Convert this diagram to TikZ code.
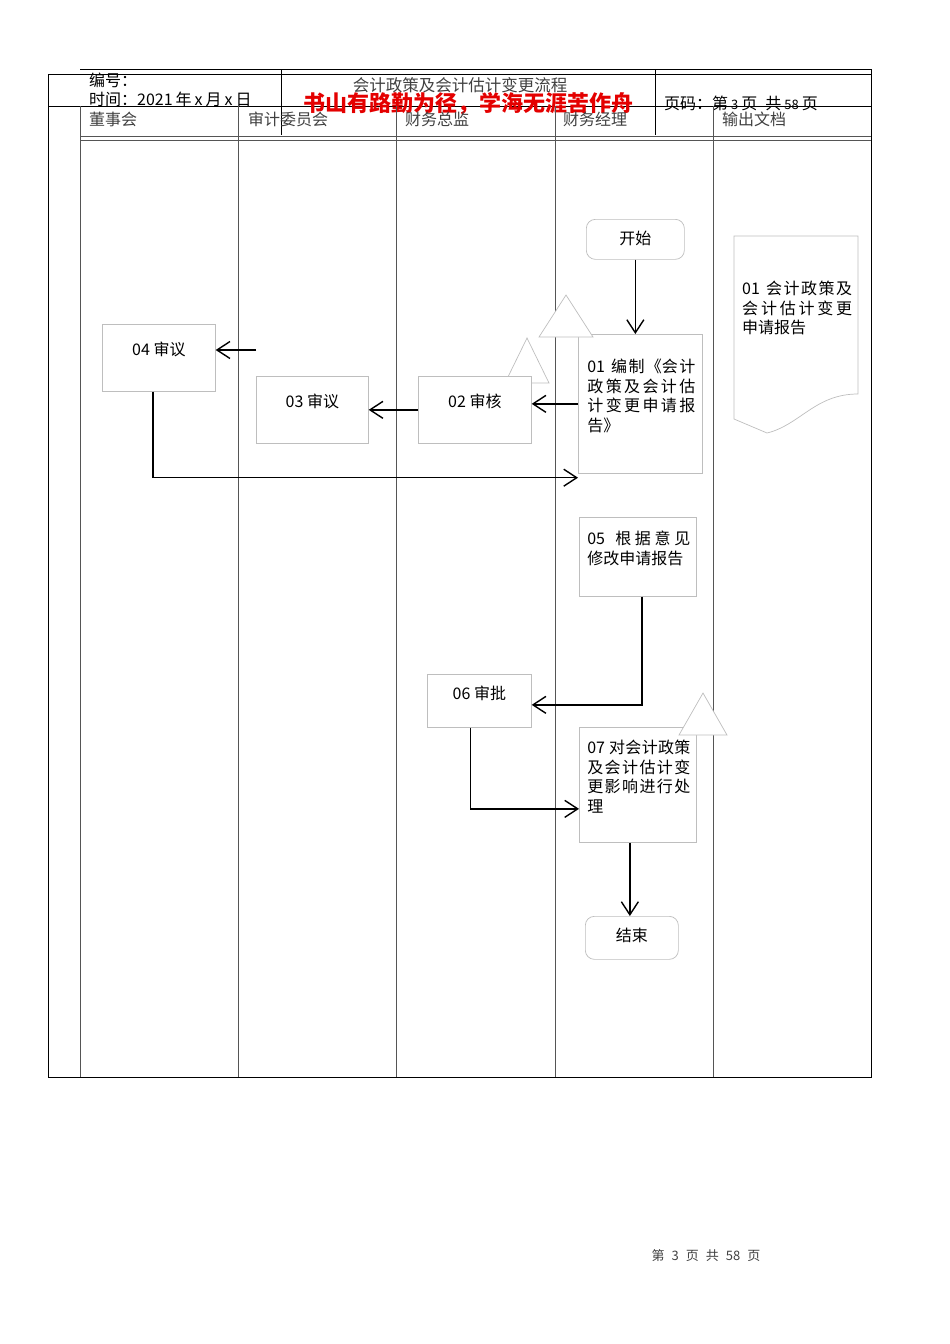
\documentclass[tikz,border=0pt]{standalone}
\usepackage{fontspec}
\setmainfont{Noto Sans CJK SC}
\usepackage{xcolor}
\usepackage{tikz}
\usetikzlibrary{positioning, arrows.meta, calc}
\definecolor{linegray}{RGB}{85,85,85}
\definecolor{boxgray}{RGB}{190,190,190}
\definecolor{textgray}{RGB}{64,64,64}
\definecolor{mottored}{RGB}{228,0,0}
\XeTeXlinebreaklocale "zh"
\XeTeXlinebreakskip=0pt plus 1pt
% width, height, top gap, text
\newcommand{\boxtxt}[4]{\begin{minipage}[c][#2pt][t]{#1pt}\vspace*{#3pt}\leftskip=8pt\rightskip=6pt\relax #4\end{minipage}}

\begin{document}
\begin{tikzpicture}[x=1pt, y=-1pt, font=\fontsize{16}{19.5}\selectfont,
  proc/.style={draw=boxgray, fill=white, line width=0.7pt, inner sep=0pt, anchor=north west},
  term/.style={proc, rounded corners=9pt},
  flow/.style={-{Straight Barb[length=13pt, width=17pt]}, line width=1.4pt},
  marker/.style={draw=boxgray, fill=white, line width=0.7pt},
  lane/.style={draw=linegray, line width=0.9pt},
  frame/.style={draw=black, line width=0.9pt},
  lanehead/.style={anchor=west, text=textgray, inner sep=0pt}]

  \useasboundingbox (0,0) rectangle (950,1344);

  % --- Cabeçalho ---
  \draw[frame] (80,69) -- (871,69);
  \draw[frame] (48,74) -- (871,74);
  \draw[frame] (48,106) -- (871,106);
  \draw[frame] (281,69) -- (281,135);
  \draw[frame] (655,69) -- (655,135);
  \draw[frame] (48,74) -- (48,1077) -- (871,1077) -- (871,69);

  \node[anchor=west, inner sep=0pt] (code) at (89,80) {编号：};
  \node[anchor=west, inner sep=0pt] (date) at (89,99) {时间：2021\hspace{3pt}年\hspace{3pt}x\hspace{3pt}月\hspace{3pt}x\hspace{3pt}日};
  \node[text=textgray, inner sep=0pt, font=\fontsize{16.5}{19}\selectfont] (title) at (460,85) {会计政策及会计估计变更流程};
  \node[text=mottored, inner sep=0pt, font=\fontsize{22}{24}\selectfont\bfseries] (motto) at (468,104) {书山有路勤为径，学海无涯苦作舟};
  \node[anchor=west, inner sep=0pt] (page) at (664,103) {页码：第\hspace{3pt}{\fontsize{13}{15}\selectfont 3}\hspace{3pt}页\hspace{8pt}共\hspace{3pt}{\fontsize{13}{15}\selectfont 58}\hspace{3pt}页};

  % --- Raias ---
  \draw[lane] (80,136) -- (871,136);
  \draw[lane] (80,140) -- (871,140);
  \foreach \x in {80,238,396,555,713}
    \draw[lane] (\x,106) -- (\x,1077);

  \node[lanehead] (h1) at (89,119) {董事会};
  \node[lanehead] (h2) at (248,119) {审计委员会};
  \node[lanehead] (h3) at (405,119) {财务总监};
  \node[lanehead] (h4) at (563,119) {财务经理};
  \node[lanehead] (h5) at (722,119) {输出文档};

  % --- Triângulo atrás do 02 ---
  \draw[marker] (527,338) -- (549,383) -- (505,383) -- cycle;

  % --- Etapas ---
  \node[term] (start) at (586,219) {\boxtxt{98}{40}{12}{\centering 开始\par}};
  \node[proc] (b01) at (578,334) {\boxtxt{124}{139}{25}{\leftskip=9pt\rightskip=7pt 01 编制《会计\linebreak 政策及会计估\linebreak 计变更申请报\linebreak 告》\par}};
  \node[proc] (b02) at (418,376) {\boxtxt{113}{67}{18}{\centering 02 审核\par}};
  \node[proc] (b03) at (256,376) {\boxtxt{112}{67}{18}{\centering 03 审议\par}};
  \node[proc] (b04) at (102,324) {\boxtxt{113}{67}{18}{\centering 04 审议\par}};
  \node[proc] (b05) at (579,517) {\boxtxt{117}{79}{14}{05 根据意见\linebreak 修改申请报告\par}};
  \node[proc] (b06) at (427,674) {\boxtxt{104}{53}{12}{\centering 06 审批\par}};
  \node[proc] (b07) at (579,727) {\boxtxt{117}{115}{13}{07 对会计政策\linebreak 及会计估计变\linebreak 更影响进行处\linebreak 理\par}};
  \node[term] (end) at (585,916) {\boxtxt{93}{43}{12}{\centering 结束\par}};

  % --- Triângulos sobre as caixas ---
  \draw[marker] (566,295) -- (593,337) -- (539,337) -- cycle;
  \draw[marker] (703,693) -- (727,735) -- (679,735) -- cycle;

  % --- Documento de saída ---
  \draw[marker] (734,236) -- (858,236) -- (858,394)
    .. controls (815,394) and (800,425) .. (767,433) -- (734,419) -- cycle;
  \node[inner sep=0pt, anchor=north west] (doc) at (734,236) {\boxtxt{124}{150}{45}{01 会计政策及\linebreak 会计估计变更\linebreak 申请报告\par}};

  % --- Setas ---
  \coordinate (in04) at (256,350);
  \draw[flow] (start.south) -- (start.south |- b01.north);
  \draw[flow] (b01.west) -- (b01.west -| b02.east);
  \draw[flow] (b02.west) -- (b02.west -| b03.east);
  \draw[flow] (in04) -- (in04 -| b04.east);
  \draw[flow] ([xshift=-6pt]b04.south) |- ([yshift=-4pt]b01.south west);
  \draw[flow] ([xshift=4pt]b05.south) |- ([yshift=-4pt]b06.east);
  \draw[flow] ([xshift=-9pt]b06.south) |- ([yshift=-24pt]b07.west);
  \draw[flow] ([xshift=-2pt]end.north |- b07.south) -- ([xshift=-2pt]end.north);

  % --- Rodapé ---
  \node[text=textgray, inner sep=0pt, font=\fontsize{13}{15}\selectfont] (foot) at (706,1256) {第\hspace{7pt}3\hspace{7pt}页\hspace{7pt}共\hspace{7pt}58\hspace{7pt}页};

\end{tikzpicture}
\end{document}
